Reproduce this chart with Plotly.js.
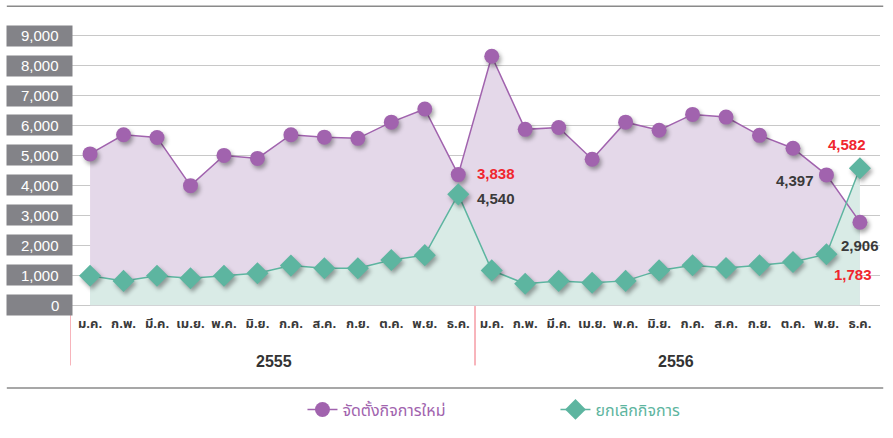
<!DOCTYPE html>
<html>
<head>
<meta charset="utf-8">
<script src="https://cdn.plot.ly/plotly-3.0.1.min.js"></script>
<style>
html,body{margin:0;padding:0;background:#fff;}
#chart{width:893px;height:438px;}
.scatterlayer .trace .points path{filter:drop-shadow(2px 3px 2px rgba(0,0,0,0.35));}
.legend .scatterpts path{filter:drop-shadow(2px 3px 2px rgba(0,0,0,0.35));}
</style>
</head>
<body>
<div id="chart"></div>
<script>
const months = ["ม.ค.","ก.พ.","มี.ค.","เม.ย.","พ.ค.","มิ.ย.","ก.ค.","ส.ค.","ก.ย.","ต.ค.","พ.ย.","ธ.ค.",
                "ม.ค.","ก.พ.","มี.ค.","เม.ย.","พ.ค.","มิ.ย.","ก.ค.","ส.ค.","ก.ย.","ต.ค.","พ.ย.","ธ.ค."];
const years = ["2555","2556"];
const newBiz = [5050,5690,5600,3990,5000,4900,5690,5610,5570,6110,6550,4360,
                8310,5870,5930,4870,6110,5840,6370,6280,5670,5240,4350,2770];
const closedBiz = [980,810,980,900,980,1065,1320,1230,1230,1505,1670,3700,
                   1160,715,810,750,810,1160,1330,1240,1330,1440,1700,4570];
const yTicks = [0,1000,2000,3000,4000,5000,6000,7000,8000,9000];
const seriesNames = ["จัดตั้งกิจการใหม่","ยกเลิกกิจการ"];
const labelTexts = ["3,838","4,540","4,582","4,397","2,906","1,783"];
const labelX = [11.5,11.5,22.62,21.06,23.0,22.8];
const labelY = [4380,3570,5350,4175,1980,1030];
const labelRed = [true,false,true,false,false,true];

const idx = months.map((m,i)=>i);
const purple = "#a163ae", green = "#5db5a0";
const numFont = "Liberation Sans, Arial, Helvetica, sans-serif";
const thaiFont = "Noto Sans Thai, Noto Sans, DejaVu Sans, sans-serif";

const traces = [
  {x: idx, y: newBiz, type: "scatter", mode: "none", fill: "tozeroy", fillcolor: "#e4d8e9",
   showlegend: false, hoverinfo: "skip"},
  {x: idx, y: closedBiz, type: "scatter", mode: "none", fill: "tozeroy", fillcolor: "#d9ebe6",
   showlegend: false, hoverinfo: "skip"},
  {x: idx, y: newBiz, type: "scatter", mode: "lines+markers",
   name: '<span style="color:'+purple+'">'+seriesNames[0]+'</span>',
   line: {color: purple, width: 1.5}, marker: {symbol: "circle", size: 15, color: purple}},
  {x: idx, y: closedBiz, type: "scatter", mode: "lines+markers",
   name: '<span style="color:'+green+'">'+seriesNames[1]+'</span>',
   line: {color: green, width: 1.5}, marker: {symbol: "diamond", size: 17, color: green}}
];

const annotations = [];
yTicks.forEach(v => {
  annotations.push({
    xref: "paper", yref: "y", x: -0.0377, y: v, xanchor: "center", yanchor: "middle",
    text: " ", showarrow: false, width: 61, height: 16,
    bgcolor: "#838388", borderpad: 2, font: {family: numFont, size: 15, color: "#ffffff"}
  });
  annotations.push({
    xref: "paper", yref: "y", x: -0.0105, y: v, xanchor: "right", yanchor: "middle",
    text: v.toLocaleString("en-US"), showarrow: false,
    font: {family: numFont, size: 15, color: "#ffffff"}
  });
});
years.forEach((yr,k) => annotations.push({
  xref: "x", yref: "paper", x: 5.5 + 12*k, y: -0.16, xanchor: "center", yanchor: "middle",
  text: "<b>"+yr+"</b>", showarrow: false, font: {family: numFont, size: 16, color: "#333333"}
}));
labelTexts.forEach((t,k) => annotations.push({
  xref: "x", yref: "y", x: labelX[k], y: labelY[k],
  xanchor: (k < 2 ? "left" : "center"), yanchor: "middle",
  text: "<b>"+t+"</b>", showarrow: false,
  font: {family: numFont, size: 15, color: labelRed[k] ? "#f0262e" : "#3a3a3a"}
}));

const shapes = [
  {type: "line", xref: "paper", yref: "paper", x0: -0.078, x1: 1.004, y0: 1.047, y1: 1.047, line: {color: "#8a8a8a", width: 1.5}},
  {type: "line", xref: "paper", yref: "paper", x0: -0.078, x1: 1.004, y0: -0.252, y1: -0.252, line: {color: "#8a8a8a", width: 1.5}},
  {type: "line", xref: "x", yref: "paper", x0: -0.6, x1: -0.6, y0: 0.027, y1: -0.175, line: {color: "#f06a78", width: 1}},
  {type: "line", xref: "x", yref: "paper", x0: 11.5, x1: 11.5, y0: 0.027, y1: -0.175, line: {color: "#f06a78", width: 1}}
];

const layout = {
  width: 893, height: 438,
  margin: {l: 70, r: 13, t: 20, b: 120},
  paper_bgcolor: "#ffffff", plot_bgcolor: "#ffffff",
  showlegend: true,
  legend: {orientation: "h", x: 0.287, y: -0.325, xanchor: "left", yanchor: "middle",
           entrywidth: 208, font: {family: thaiFont, size: 16}, traceorder: "normal"},
  xaxis: {range: [-0.6, 23.6], tickmode: "array", tickvals: idx,
          ticktext: months.map(m => "<b>"+m+"</b>"),
          showgrid: false, zeroline: false, showline: false, ticks: "",
          tickfont: {family: thaiFont, size: 13, color: "#3a3a3a"}},
  yaxis: {range: [-296, 9522], tickvals: yTicks, showticklabels: false,
          gridcolor: "#c8c8c8", gridwidth: 1.2, zeroline: false, showline: false, ticks: ""},
  annotations: annotations,
  shapes: shapes
};

Plotly.newPlot("chart", traces, layout, {displayModeBar: false, staticPlot: true});
</script>
</body>
</html>
